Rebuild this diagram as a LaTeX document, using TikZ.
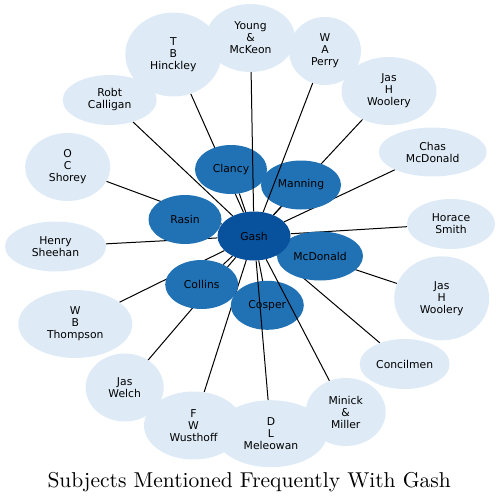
\documentclass[tikz,border=0pt]{standalone}
\usepackage{fontspec}
\newfontfamily\nodefont{DejaVu Sans}
\newfontfamily\titlefont{lmroman10-regular}[Extension=.otf]
\usetikzlibrary{shapes.geometric,backgrounds}
\definecolor{hubblue}{HTML}{08519C}
\definecolor{midblue}{HTML}{2171B5}
\definecolor{paleblue}{HTML}{DEEBF7}
\tikzset{
  subj/.style={ellipse, inner sep=0pt, align=center,
    font=\nodefont\fontsize{10.8}{12}\selectfont},
  sz/.style 2 args={minimum width=#1pt, minimum height=#2pt},
  hub/.style={subj, fill=hubblue},
  near/.style={subj, fill=midblue},
  far/.style={subj, fill=paleblue},
  link/.style={line width=1pt, black}
}
\begin{document}
\begin{tikzpicture}[x=1pt, y=-1pt]
  \useasboundingbox (0,0) rectangle (500,503);
  % ── anillo exterior: temas poco citados ──
  \node[far, sz={94}{50}]  (calligan) at (109.7,100)  {Robt\\Calligan};
  \node[far, sz={96}{84}]  (hinckley) at (173.3,54.5) {T\\B\\Hinckley};
  \node[far, sz={89}{68}]  (mckeon)   at (250.5,38)   {Young\\\&\\McKeon};
  \node[far, sz={72}{68}]  (perry)    at (325,51)     {W\\A\\Perry};
  \node[far, sz={95}{68}]  (wooleryA) at (389,91)     {Jas\\H\\Woolery};
  \node[far, sz={108}{49}] (chasmcd)  at (432.7,152)  {Chas\\McDonald};
  \node[far, sz={88}{50}]  (smith)    at (451,224)    {Horace\\Smith};
  \node[far, sz={95}{84}]  (wooleryB) at (441.7,298.3) {Jas\\H\\Woolery};
  \node[far, sz={90}{50}]  (concil)   at (404.7,364)  {Concilmen};
  \node[far, sz={112}{67}] (meleowan) at (271,433.7)  {D\\L\\Meleowan};
  \node[far, sz={80}{68}]  (minick)   at (345.7,412)  {Minick\\\&\\Miller};
  \node[far, sz={99}{68}]  (wusthoff) at (193.5,425.5) {F\\W\\Wusthoff};
  \node[far, sz={78}{68}]  (welch)    at (124.7,387.5) {Jas\\Welch};
  \node[far, sz={114}{68}] (thompson) at (75.3,324)   {W\\B\\Thompson};
  \node[far, sz={101}{50}] (sheehan)  at (55.5,246.5) {Henry\\Sheehan};
  \node[far, sz={85}{68}]  (shorey)   at (67.7,167)   {O\\C\\Shorey};
  % ── anillo interior ──
  \node[near, sz={72}{49}] (clancy)   at (231,169.5)  {Clancy};
  \node[near, sz={80}{49}] (manning)  at (301,185)    {Manning};
  \node[near, sz={73}{49}] (rasin)    at (185,219.5)  {Rasin};
  \node[near, sz={86}{49}] (mcdonald) at (320,256)    {McDonald};
  \node[near, sz={73}{49}] (collins)  at (201.7,284.5) {Collins};
  \node[near, sz={73}{49}] (cosper)   at (267.3,305.3) {Cosper};
  % ── centro ──
  \node[hub, sz={73}{49}]  (gash)     at (254,236)    {Gash};
  % ── aristas: casi todas detrás de los nodos ──
  \begin{pgfonlayer}{background}
    \foreach \n in {calligan,hinckley,wooleryA,chasmcd,smith,
      wooleryB,concil,wusthoff,welch,thompson,sheehan,shorey,
      clancy,manning,rasin,mcdonald,collins,cosper}
      { \draw[link] (gash) -- (\n); }
  \end{pgfonlayer}
  % estas cuatro cruzan por encima de Clancy, Manning y Cosper
  \foreach \n in {mckeon,perry,meleowan,minick}
    { \draw[link] (gash) -- (\n); }
  % ── título ──
  \node[anchor=base, inner sep=0pt] (title) at (249.2,487.7)
    {\titlefont\fontsize{21.5}{24}\selectfont Subjects Mentioned Frequently With Gash};
\end{tikzpicture}
\end{document}
